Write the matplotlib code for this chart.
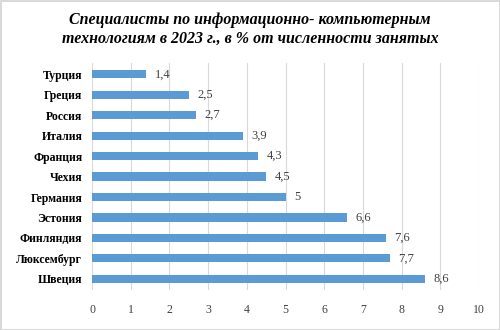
import matplotlib.pyplot as plt

countries = ["Турция", "Греция", "Россия", "Италия", "Франция", "Чехия",
             "Германия", "Эстония", "Финляндия", "Люксембург", "Швеция"]
values = [1.4, 2.5, 2.7, 3.9, 4.3, 4.5, 5, 6.6, 7.6, 7.7, 8.6]

plt.rcParams['font.family'] = ['Liberation Serif', 'DejaVu Serif']

fig = plt.figure(figsize=(5, 3.3), dpi=100)
fig.patch.set_edgecolor('#D9D9D9')
fig.patch.set_linewidth(2)
ax = fig.add_axes([0.184, 0.121, 0.774, 0.688])

y = list(range(len(countries)))
ax.barh(y, values, height=0.4, color='#5B9BD5', zorder=2)

for yi, v in zip(y, values):
    txt = f"{v:g}".replace('.', ',')
    ax.annotate(txt, (v, yi), xytext=(6, 0), textcoords='offset points',
                va='center', ha='left', fontsize=9, color='#404040')

ax.set_yticks(y)
ax.set_yticklabels(countries, fontsize=8.5, fontweight='bold', color='#000000')
ax.set_ylim(10.55, -0.55)
ax.set_xlim(0, 10)
ax.set_xticks(range(0, 11))
ax.tick_params(axis='x', labelsize=8.5, colors='#404040', length=0, pad=10)
ax.tick_params(axis='y', length=0, pad=7)
ax.grid(axis='x', color='#D9D9D9', linewidth=0.8, zorder=0)
for s in ax.spines.values():
    s.set_visible(False)

fig.suptitle("Специалисты по информационно- компьютерным\n"
             "технологиям в 2023 г., в % от численности занятых",
             x=0.5, y=0.965, fontsize=11.5, fontweight='bold', style='italic',
             linespacing=1.3)

fig.savefig("out.png", dpi=100)
